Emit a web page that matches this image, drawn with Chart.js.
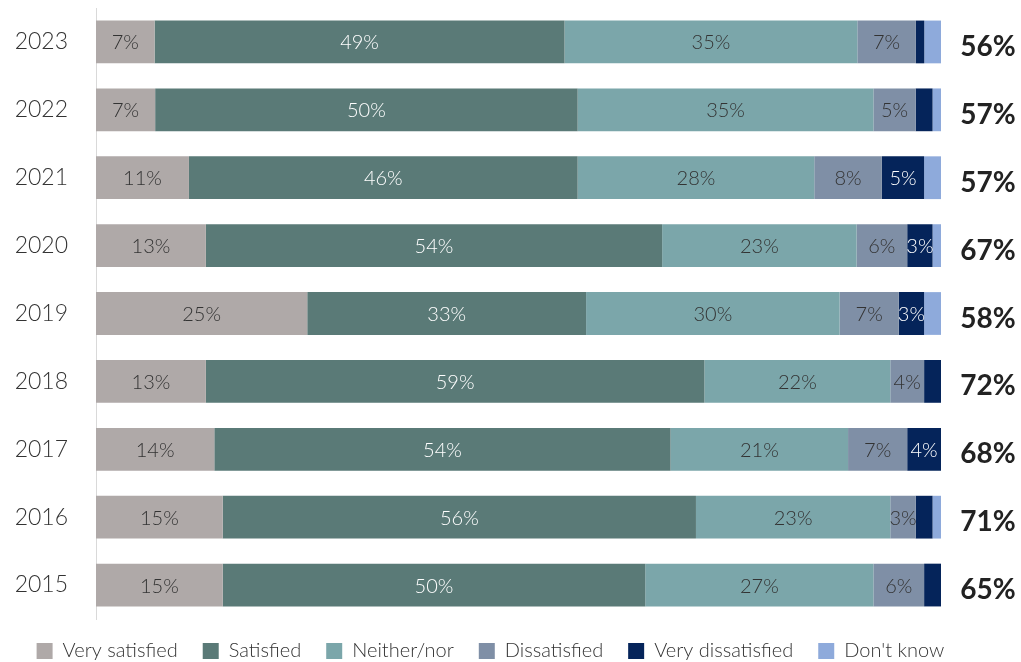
<!DOCTYPE html>
<html>
<head>
<meta charset="utf-8">
<script src="https://cdn.jsdelivr.net/npm/chart.js@4/dist/chart.umd.min.js"></script>
<style>
  html, body { margin: 0; padding: 0; background: #fff; }
  #wrap { width: 1021px; height: 662px; }
</style>
</head>
<body>
<div id="wrap"><canvas id="chart"></canvas></div>
<script>
const years = ['2023', '2022', '2021', '2020', '2019', '2018', '2017', '2016', '2015'];
const verySatisfied    = [7, 7, 11, 13, 25, 13, 14, 15, 15];
const satisfied        = [49, 50, 46, 54, 33, 59, 54, 56, 50];
const neither          = [35, 35, 28, 23, 30, 22, 21, 23, 27];
const dissatisfied     = [7, 5, 8, 6, 7, 4, 7, 3, 6];
const veryDissatisfied = [1, 2, 5, 3, 3, 2, 4, 2, 2];
const dontKnow         = [2, 1, 2, 1, 2, 0, 0, 1, 0];

const FONT = 'Lato, "Noto Sans", sans-serif';

const series = [
  { label: 'Very satisfied',    values: verySatisfied,    color: '#afa9a8', text: '#333333', minLabel: 3 },
  { label: 'Satisfied',         values: satisfied,        color: '#5a7a77', text: '#ffffff', minLabel: 3 },
  { label: 'Neither/nor',       values: neither,          color: '#7ba6aa', text: '#333333', minLabel: 3 },
  { label: 'Dissatisfied',      values: dissatisfied,     color: '#7f8fa6', text: '#333333', minLabel: 3 },
  { label: 'Very dissatisfied', values: veryDissatisfied, color: '#05245a', text: '#ffffff', minLabel: 3 },
  { label: "Don't know",        values: dontKnow,         color: '#8eaadb', text: '#333333', minLabel: 99 }
];

// each row is scaled so the bars all fill the full width
const rowTotals = years.map((_, i) => series.reduce((s, d) => s + d.values[i], 0));
const satisfiedTotals = years.map((_, i) => verySatisfied[i] + satisfied[i]);

const datasets = series.map(s => ({
  label: s.label,
  data: s.values.map((v, i) => v / rowTotals[i] * 100),
  raw: s.values,
  textColor: s.text,
  minLabel: s.minLabel,
  backgroundColor: s.color,
  borderWidth: 0,
  barPercentage: 0.63,
  categoryPercentage: 1
}));

const segmentLabels = {
  id: 'segmentLabels',
  afterLayout(chart) {
    // pull the legend up a little closer to the bars
    chart.legend.top -= 3;
    chart.legend.bottom -= 3;
  },
  afterDatasetsDraw(chart) {
    const ctx = chart.ctx;
    ctx.save();
    ctx.font = '300 20px ' + FONT;
    ctx.textAlign = 'center';
    ctx.textBaseline = 'middle';
    chart.data.datasets.forEach((ds, di) => {
      chart.getDatasetMeta(di).data.forEach((bar, i) => {
        const v = ds.raw[i];
        if (v < ds.minLabel) return;
        ctx.fillStyle = ds.textColor;
        ctx.fillText(v + '%', (bar.base + bar.x) / 2, bar.y + 1);
      });
    });
    // satisfied share at the end of each row
    ctx.font = 'bold 28px ' + FONT;
    ctx.fillStyle = '#222222';
    const meta = chart.getDatasetMeta(0);
    meta.data.forEach((bar, i) => {
      ctx.fillText(satisfiedTotals[i] + '%', chart.chartArea.right + 47, bar.y + 5);
    });
    ctx.restore();
  }
};

function noPadding(scale) {
  scale.paddingTop = 0;
  scale.paddingBottom = 0;
}

new Chart(document.getElementById('chart'), {
  type: 'bar',
  data: { labels: years, datasets: datasets },
  options: {
    indexAxis: 'y',
    responsive: true,
    maintainAspectRatio: false,
    animation: false,
    layout: { padding: { top: 8, right: 40, left: 0, bottom: -12 } },
    scales: {
      x: { stacked: true, min: 0, max: 100, display: false },
      y: {
        stacked: true,
        afterFit(scale) { scale.width = 96; noPadding(scale); },
        grid: { display: false, drawTicks: false },
        border: { display: true, color: '#d9d9d9', width: 1 },
        ticks: { padding: 28, color: '#333333', font: { family: FONT, size: 23, weight: '300' } }
      },
      // empty column on the right that holds the totals
      yRight: {
        type: 'category',
        position: 'right',
        afterFit(scale) { scale.width = 40; noPadding(scale); },
        grid: { display: false, drawTicks: false },
        border: { display: false },
        ticks: { display: false }
      }
    },
    plugins: {
      legend: {
        position: 'bottom',
        labels: {
          boxWidth: 16,
          boxHeight: 16,
          padding: 25,
          color: '#333333',
          font: { family: FONT, size: 20, weight: '300' }
        }
      },
      tooltip: { enabled: false }
    }
  },
  plugins: [segmentLabels]
});
</script>
</body>
</html>
